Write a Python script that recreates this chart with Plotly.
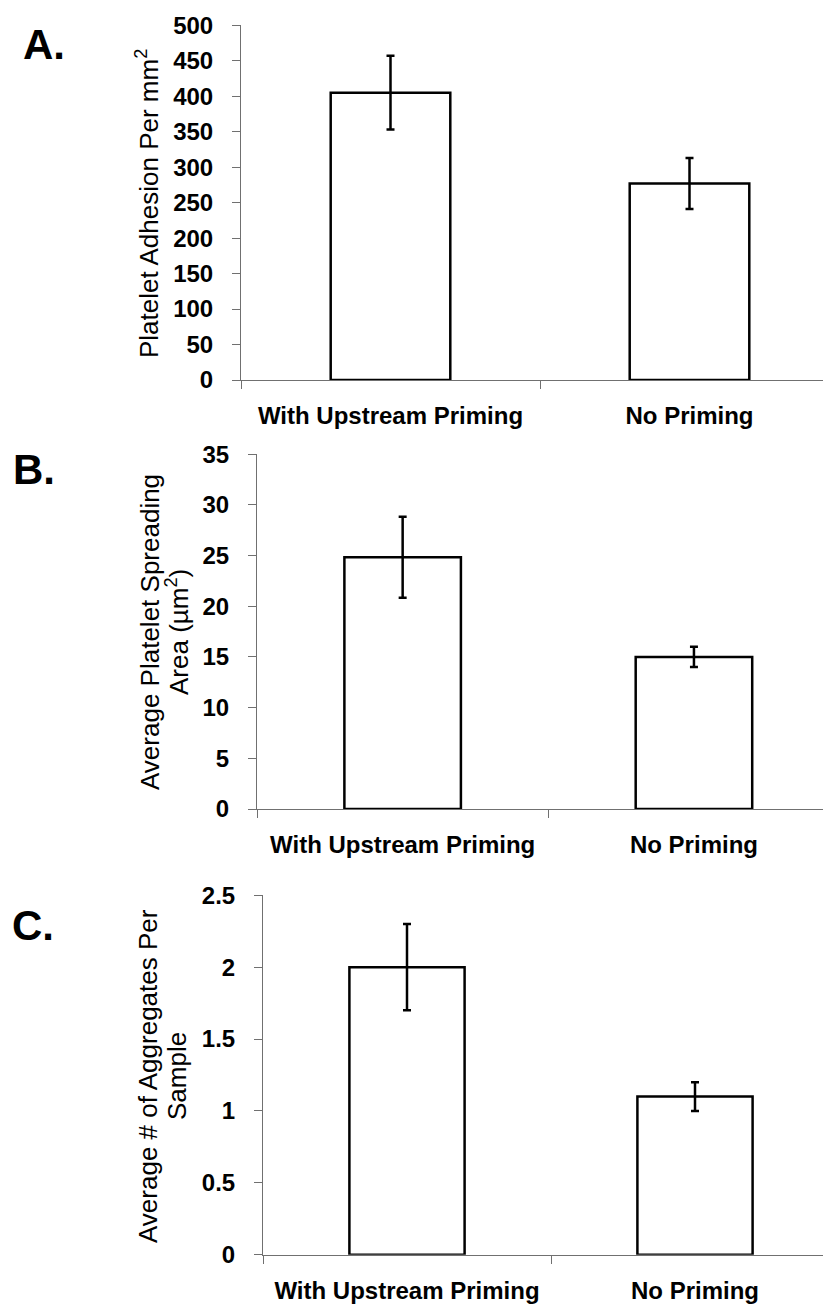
import plotly.graph_objects as go

# the page body has an 8px margin, so the figure is placed at (8, 8) in the window
PAGE_W, PAGE_H = 831, 1304
OFF = 8
W, H = PAGE_W - OFF, PAGE_H - OFF

categories = ["With Upstream Priming", "No Priming"]

adhesion_mean = [405, 277]
adhesion_err = [52, 36]

spreading_mean = [24.85, 15.0]
spreading_err = [4.0, 1.0]

aggregates_mean = [2.0, 1.1]
aggregates_err = [0.3, 0.1]

yticks_a = [0, 50, 100, 150, 200, 250, 300, 350, 400, 450, 500]
yticks_b = [0, 5, 10, 15, 20, 25, 30, 35]
yticks_c = [0, 0.5, 1, 1.5, 2, 2.5]

FONT = "Liberation Sans, Arial, sans-serif"
AXIS_GREY = "#707070"


def px_x(x):
    return (x - OFF) / W


def px_y(y):
    return 1 - (y - OFF) / H


# panel geometry in window pixels
panels = [
    dict(left=241, top=25.3, bottom=380, spacing=299, yr=[0, 500], ticks=yticks_a,
         mean=adhesion_mean, err=adhesion_err),
    dict(left=257, top=454.3, bottom=809, spacing=291.3, yr=[0, 35], ticks=yticks_b,
         mean=spreading_mean, err=spreading_err),
    dict(left=263, top=895.3, bottom=1254.7, spacing=288, yr=[0, 2.5], ticks=yticks_c,
         mean=aggregates_mean, err=aggregates_err),
]

fig = go.Figure()
layout = dict(
    template="none",
    width=W, height=H,
    margin=dict(l=0, r=0, t=0, b=0, autoexpand=False),
    paper_bgcolor="white", plot_bgcolor="white",
    showlegend=False,
    font=dict(family=FONT, color="black"),
)

for i, p in enumerate(panels):
    sfx = "" if i == 0 else str(i + 1)
    fig.add_trace(go.Bar(
        x=categories, y=p["mean"],
        xaxis="x" + sfx, yaxis="y" + sfx,
        width=0.4,
        marker=dict(color="white", line=dict(color="black", width=2.5)),
        error_y=dict(type="data", array=p["err"], visible=True,
                     color="black", thickness=2.5, width=4),
        hoverinfo="skip",
    ))
    span = (PAGE_W - p["left"]) / p["spacing"]
    layout["xaxis" + sfx] = dict(
        domain=[px_x(p["left"]), 1],
        anchor="y" + sfx,
        type="category",
        range=[-0.5, -0.5 + span],
        automargin=False,
        showline=True, linecolor=AXIS_GREY, linewidth=1,
        ticks="outside", ticklen=8, tickcolor=AXIS_GREY, tickwidth=1,
        tickson="boundaries",
        showgrid=False, zeroline=False,
        tickfont=dict(size=24, family=FONT, color="black", weight="bold"),
        ticklabelstandoff=14,
        fixedrange=True,
    )
    layout["yaxis" + sfx] = dict(
        domain=[px_y(p["bottom"]), px_y(p["top"])],
        anchor="x" + sfx,
        range=p["yr"],
        automargin=False,
        tickmode="array", tickvals=p["ticks"],
        showline=True, linecolor=AXIS_GREY, linewidth=1,
        ticks="outside", ticklen=8, tickcolor=AXIS_GREY, tickwidth=1,
        showgrid=False, zeroline=False,
        tickfont=dict(size=24, family=FONT, color="black", weight="bold"),
        ticklabelstandoff=14,
        fixedrange=True,
    )

fig.update_layout(**layout)

annotations = []


def ann(text, x, y, size, bold=False, angle=0):
    annotations.append(dict(
        text=text, x=px_x(x), y=px_y(y), xref="paper", yref="paper",
        xanchor="center", yanchor="middle", showarrow=False, textangle=angle,
        font=dict(size=size, family=FONT, color="black", weight="bold" if bold else "normal"),
    ))


# panel letters
ann("A.", 44, 44, 42, bold=True)
ann("B.", 34, 470, 42, bold=True)
ann("C.", 33, 925, 42, bold=True)

# y-axis titles
ann("Platelet Adhesion Per mm<sup>2</sup>", 147, 204, 26, angle=-90)
ann("Average Platelet Spreading", 150, 632, 26, angle=-90)
ann("Area (µm<sup>2</sup>)", 178, 632, 26, angle=-90)
ann("Average # of Aggregates Per", 148, 1076, 26, angle=-90)
ann("Sample", 177, 1076, 26, angle=-90)

fig.update_layout(annotations=annotations)

fig.write_html("out.html")
